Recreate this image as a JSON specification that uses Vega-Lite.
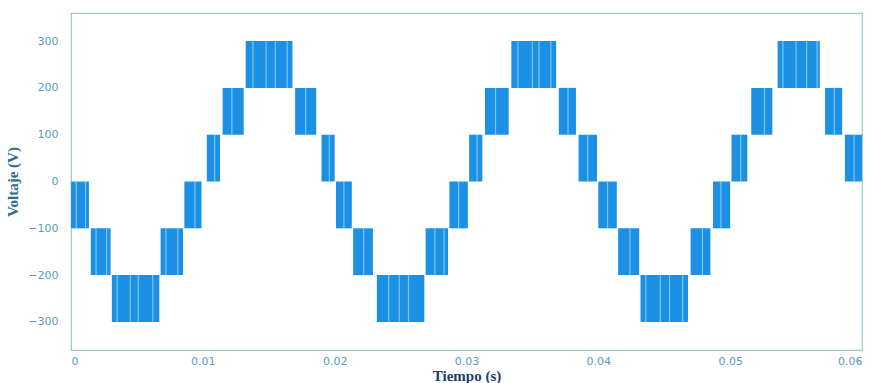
{
  "$schema": "https://vega.github.io/schema/vega-lite/v6.json",
  "width": 791,
  "height": 337,
  "autosize": {"type": "none"},
  "padding": {"left": 71, "top": 13, "right": 14, "bottom": 33},
  "background": "white",
  "config": {
    "view": {"stroke": "#9cc7cb", "strokeWidth": 1.2},
    "axis": {"grid": false, "ticks": false, "domain": false}
  },
  "datasets": {
    "bands": [
      {"t0": 0.0, "t1": 0.00136, "lo": -100, "hi": 0},
      {"t0": 0.0015, "t1": 0.0030, "lo": -200, "hi": -100},
      {"t0": 0.0031, "t1": 0.0067, "lo": -300, "hi": -200},
      {"t0": 0.0068, "t1": 0.0085, "lo": -200, "hi": -100},
      {"t0": 0.0086, "t1": 0.0099, "lo": -100, "hi": 0},
      {"t0": 0.0103, "t1": 0.0113, "lo": 0, "hi": 100},
      {"t0": 0.0115, "t1": 0.0131, "lo": 100, "hi": 200},
      {"t0": 0.01325, "t1": 0.0168, "lo": 200, "hi": 300},
      {"t0": 0.0170, "t1": 0.0186, "lo": 100, "hi": 200},
      {"t0": 0.0190, "t1": 0.0200, "lo": 0, "hi": 100},
      {"t0": 0.0201, "t1": 0.0213, "lo": -100, "hi": 0},
      {"t0": 0.0214, "t1": 0.0229, "lo": -200, "hi": -100},
      {"t0": 0.0232, "t1": 0.0268, "lo": -300, "hi": -200},
      {"t0": 0.0269, "t1": 0.0286, "lo": -200, "hi": -100},
      {"t0": 0.0287, "t1": 0.0301, "lo": -100, "hi": 0},
      {"t0": 0.0302, "t1": 0.0312, "lo": 0, "hi": 100},
      {"t0": 0.0314, "t1": 0.0332, "lo": 100, "hi": 200},
      {"t0": 0.0334, "t1": 0.0368, "lo": 200, "hi": 300},
      {"t0": 0.0370, "t1": 0.0383, "lo": 100, "hi": 200},
      {"t0": 0.0385, "t1": 0.0399, "lo": 0, "hi": 100},
      {"t0": 0.0400, "t1": 0.0414, "lo": -100, "hi": 0},
      {"t0": 0.0415, "t1": 0.0431, "lo": -200, "hi": -100},
      {"t0": 0.0432, "t1": 0.0468, "lo": -300, "hi": -200},
      {"t0": 0.0470, "t1": 0.0485, "lo": -200, "hi": -100},
      {"t0": 0.0487, "t1": 0.0500, "lo": -100, "hi": 0},
      {"t0": 0.0501, "t1": 0.0513, "lo": 0, "hi": 100},
      {"t0": 0.0516, "t1": 0.0532, "lo": 100, "hi": 200},
      {"t0": 0.0536, "t1": 0.0568, "lo": 200, "hi": 300},
      {"t0": 0.0572, "t1": 0.0585, "lo": 100, "hi": 200},
      {"t0": 0.0587, "t1": 0.0600, "lo": 0, "hi": 100}
    ],
    "stripes": [
      {"t": 0.0004, "lo": -100, "hi": 0},
      {"t": 0.0011, "lo": -100, "hi": 0},
      {"t": 0.0019, "lo": -200, "hi": -100},
      {"t": 0.0027, "lo": -200, "hi": -100},
      {"t": 0.0035, "lo": -300, "hi": -200},
      {"t": 0.0045, "lo": -300, "hi": -200},
      {"t": 0.0051, "lo": -300, "hi": -200},
      {"t": 0.0062, "lo": -300, "hi": -200},
      {"t": 0.0072, "lo": -200, "hi": -100},
      {"t": 0.0081, "lo": -200, "hi": -100},
      {"t": 0.0094, "lo": -100, "hi": 0},
      {"t": 0.0109, "lo": 0, "hi": 100},
      {"t": 0.0122, "lo": 100, "hi": 200},
      {"t": 0.0138, "lo": 200, "hi": 300},
      {"t": 0.0148, "lo": 200, "hi": 300},
      {"t": 0.0155, "lo": 200, "hi": 300},
      {"t": 0.0164, "lo": 200, "hi": 300},
      {"t": 0.0178, "lo": 100, "hi": 200},
      {"t": 0.0196, "lo": 0, "hi": 100},
      {"t": 0.0207, "lo": -100, "hi": 0},
      {"t": 0.0222, "lo": -200, "hi": -100},
      {"t": 0.0241, "lo": -300, "hi": -200},
      {"t": 0.0249, "lo": -300, "hi": -200},
      {"t": 0.0256, "lo": -300, "hi": -200},
      {"t": 0.0276, "lo": -200, "hi": -100},
      {"t": 0.0283, "lo": -200, "hi": -100},
      {"t": 0.0294, "lo": -100, "hi": 0},
      {"t": 0.0308, "lo": 0, "hi": 100},
      {"t": 0.0322, "lo": 100, "hi": 200},
      {"t": 0.0339, "lo": 200, "hi": 300},
      {"t": 0.0350, "lo": 200, "hi": 300},
      {"t": 0.0355, "lo": 200, "hi": 300},
      {"t": 0.0364, "lo": 200, "hi": 300},
      {"t": 0.0377, "lo": 100, "hi": 200},
      {"t": 0.0392, "lo": 0, "hi": 100},
      {"t": 0.0407, "lo": -100, "hi": 0},
      {"t": 0.0424, "lo": -200, "hi": -100},
      {"t": 0.0436, "lo": -300, "hi": -200},
      {"t": 0.0447, "lo": -300, "hi": -200},
      {"t": 0.0454, "lo": -300, "hi": -200},
      {"t": 0.0464, "lo": -300, "hi": -200},
      {"t": 0.0479, "lo": -200, "hi": -100},
      {"t": 0.0493, "lo": -100, "hi": 0},
      {"t": 0.0508, "lo": 0, "hi": 100},
      {"t": 0.0526, "lo": 100, "hi": 200},
      {"t": 0.0540, "lo": 200, "hi": 300},
      {"t": 0.0550, "lo": 200, "hi": 300},
      {"t": 0.0558, "lo": 200, "hi": 300},
      {"t": 0.0566, "lo": 200, "hi": 300},
      {"t": 0.0579, "lo": 100, "hi": 200},
      {"t": 0.0594, "lo": 0, "hi": 100}
    ]
  },
  "layer": [
    {
      "data": {"name": "bands"},
      "mark": {"type": "rect", "color": "#1b90e4"},
      "encoding": {
        "x": {
          "field": "t0", "type": "quantitative",
          "scale": {"domain": [0, 0.06], "nice": false, "zero": false},
          "axis": {
            "values": [0, 0.01, 0.02, 0.03, 0.04, 0.05, 0.06],
            "labelExpr": "datum.value == 0 ? '0' : format(datum.value, '.2f')",
            "labelFont": "DejaVu Sans", "labelFontSize": 11, "labelColor": "#5a9cbb",
            "labelPadding": 5,
            "title": "Tiempo (s)", "titleFont": "Liberation Serif", "titleFontWeight": "bold",
            "titleFontSize": 15, "titleColor": "#1e3d6b", "titlePadding": 2
          }
        },
        "x2": {"field": "t1"},
        "y": {
          "field": "lo", "type": "quantitative",
          "scale": {"domain": [-360, 360], "nice": false},
          "axis": {
            "values": [-300, -200, -100, 0, 100, 200, 300],
            "labelFont": "DejaVu Sans", "labelFontSize": 11, "labelColor": "#5a9cbb",
            "labelPadding": 13,
            "title": "Voltaje (V)", "titleFont": "Liberation Serif", "titleFontWeight": "bold",
            "titleFontSize": 15, "titleColor": "#2a6a8c", "titlePadding": 7
          }
        },
        "y2": {"field": "hi"}
      }
    },
    {
      "data": {"name": "stripes"},
      "mark": {"type": "rule", "color": "#7cc6f3", "strokeWidth": 1.2},
      "encoding": {
        "x": {"field": "t", "type": "quantitative"},
        "y": {"field": "lo", "type": "quantitative"},
        "y2": {"field": "hi"}
      }
    }
  ]
}
